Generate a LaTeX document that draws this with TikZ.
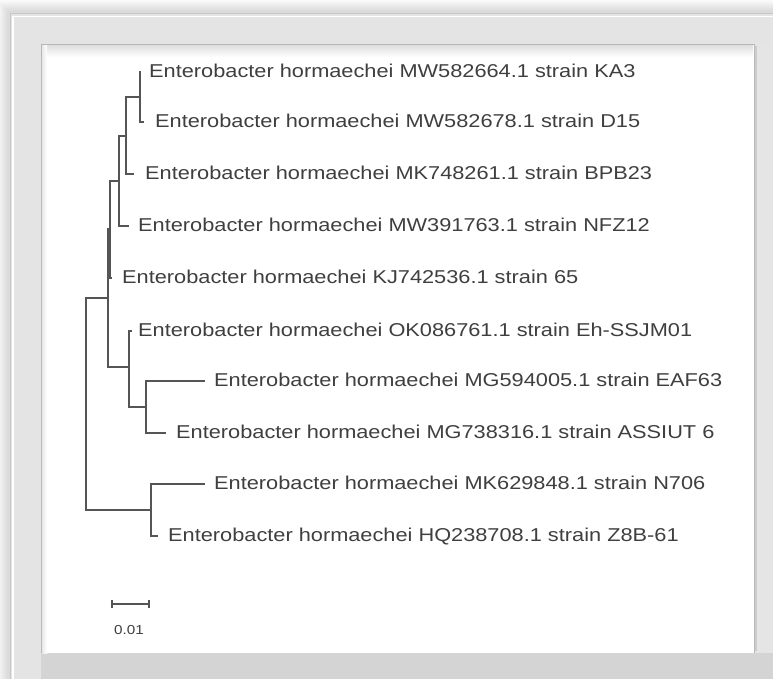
\documentclass[tikz,border=0pt]{standalone}
\usepackage{fontspec}
\newfontfamily\labfont[FakeStretch=1.17]{Liberation Sans}
\definecolor{lineg}{HTML}{555555}
\definecolor{txtg}{HTML}{3F3F3F}
\definecolor{frameg}{HTML}{E4E4E4}
\definecolor{frameb}{HTML}{D4D4D4}
\tikzset{
  br/.style={draw=lineg, line width=1.3pt, line cap=rect},
  lab/.style={anchor=west, inner sep=0pt, text height=0.716em, text depth=0pt, text=txtg,
    yshift=-2pt, font={\labfont\fontsize{18.6pt}{20pt}\selectfont}},
  sclab/.style={inner sep=0pt, text height=0.716em, text depth=0pt, text=txtg,
    font={\labfont\fontsize{13pt}{15pt}\selectfont}}
}
\begin{document}
\begin{tikzpicture}[x=1pt,y=-1pt]
\useasboundingbox (0,0) rectangle (773,679);
\fill[white] (0,0) rectangle (773,679);
% outer shadow
\foreach \k in {13,11,9,7,5,3}{
  \fill[black,opacity=0.025] ({10-\k},{13-\k}) rectangle (790,700);
}
% frame
\fill[frameg] (10,13) rectangle (790,700);
\fill[frameb] (41,653) rectangle (790,700);
\fill[black!10] (757,44) rectangle (790,653);
\draw[black!22, line width=1pt] (10.5,700) -- (10.5,13.5) -- (790,13.5);
\draw[white, line width=1.2pt] (13,700) -- (13,16.5) -- (790,16.5);
% inner panel
\fill[white] (41,44) rectangle (754,653);
\shade[top color=black!13, bottom color=white] (42,45) rectangle (753,57);
\shade[left color=black!9, right color=white] (42,45) rectangle (47,653);
\draw[black!28, line width=1pt] (41.5,653) -- (41.5,44.5) -- (754,44.5) -- (754,653);
\draw[black!20, line width=1.5pt] (756,46) -- (756,651);
% tree coordinates
\coordinate (A) at (140,97);
\coordinate (B) at (126,136);
\coordinate (C) at (119,181);
\coordinate (E) at (110,229);
\coordinate (D) at (108,298);
\coordinate (F) at (129,367);
\coordinate (G) at (146,407);
\coordinate (H) at (151,510);
\coordinate (R) at (86,404);
\coordinate (t1) at (140,72);
\coordinate (t2) at (143,122);
\coordinate (t3) at (133,174);
\coordinate (t4) at (128,226);
\coordinate (t5) at (111,278);
\coordinate (t6) at (131,331);
\coordinate (t7) at (204,381);
\coordinate (t8) at (165,433);
\coordinate (t9) at (204,484);
\coordinate (t10) at (157,536);
% branches
\draw[br] (A) |- (t1);
\draw[br] (A) |- (t2);
\draw[br] (B) |- (A);
\draw[br] (B) |- (t3);
\draw[br] (C) |- (B);
\draw[br] (C) |- (t4);
\draw[br] (E) |- (C);
\draw[br] (E) |- (t5);
\draw[br] (D) |- (E);
\draw[br] (D) |- (F);
\draw[br] (F) |- (t6);
\draw[br] (F) |- (G);
\draw[br] (G) |- (t7);
\draw[br] (G) |- (t8);
\draw[br] (R) |- (D);
\draw[br] (R) |- (H);
\draw[br] (H) |- (t9);
\draw[br] (H) |- (t10);
% labels
\node[lab] (l1) at (149,72) {Enterobacter hormaechei MW582664.1 strain KA3};
\node[lab] (l2) at (155,122) {Enterobacter hormaechei MW582678.1 strain D15};
\node[lab] (l3) at (145,174) {Enterobacter hormaechei MK748261.1 strain BPB23};
\node[lab] (l4) at (138,226) {Enterobacter hormaechei MW391763.1 strain NFZ12};
\node[lab] (l5) at (122,278) {Enterobacter hormaechei KJ742536.1 strain 65};
\node[lab] (l6) at (138,331) {Enterobacter hormaechei OK086761.1 strain Eh-SSJM01};
\node[lab] (l7) at (214,381) {Enterobacter hormaechei MG594005.1 strain EAF63};
\node[lab] (l8) at (176,433) {Enterobacter hormaechei MG738316.1 strain ASSIUT 6};
\node[lab] (l9) at (214,484) {Enterobacter hormaechei MK629848.1 strain N706};
\node[lab] (l10) at (168,536) {Enterobacter hormaechei HQ238708.1 strain Z8B-61};
% scale bar
\coordinate (s1) at (112,604);
\coordinate (s2) at (149,604);
\draw[br, line cap=butt] (s1) -- (s2);
\draw[br, line cap=butt] ([yshift=-4pt]s1) -- ([yshift=4pt]s1);
\draw[br, line cap=butt] ([yshift=-4pt]s2) -- ([yshift=4pt]s2);
\node[sclab] (sc) at (129,631) {0.01};
\end{tikzpicture}
\end{document}
